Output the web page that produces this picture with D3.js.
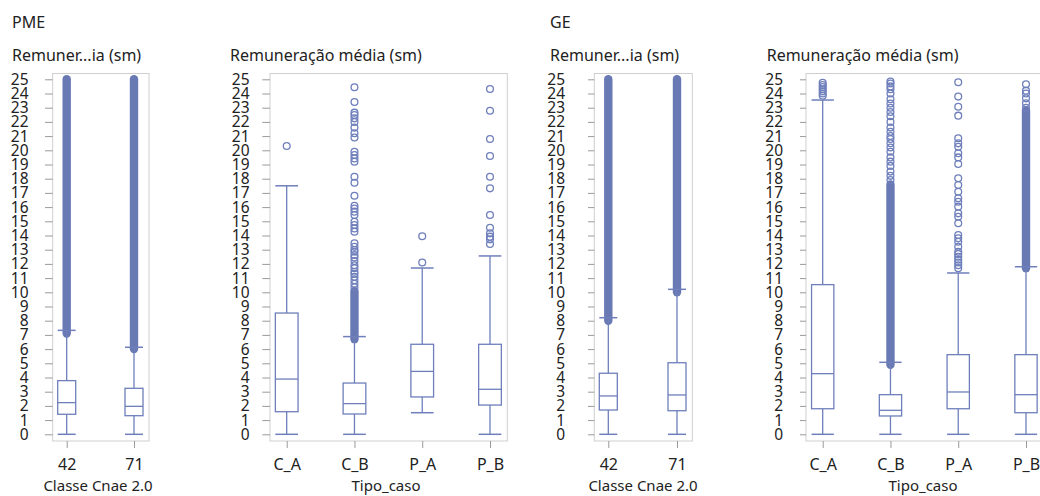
<!DOCTYPE html>
<html>
<head>
<meta charset="utf-8">
<script src="https://cdn.jsdelivr.net/npm/d3@7"></script>
<style>
  html, body { margin: 0; padding: 0; background: #fff; }
  svg { display: block; font-family: "Noto Sans", "Open Sans", sans-serif; }
</style>
</head>
<body>
<svg id="chart" width="1040" height="496"></svg>
<script>
// ---------------- DATA ----------------
const groupTitles = ["PME", "GE"];
const yTicks = d3.range(0, 26);

// stats: [lower whisker, Q1, median, Q3, upper whisker]
const pmeCnaeCats = ["42", "71"];
const pmeCnaeStats = [[0, 1.41, 2.23, 3.78, 7.32], [0, 1.31, 1.97, 3.24, 6.13]];
const pmeCnaeDense = [[7.1, 25], [6.0, 25]];
const pmeCnaeOutliers = [[], []];

const pmeTipoCats = ["C_A", "C_B", "P_A", "P_B"];
const pmeTipoStats = [
  [0, 1.59, 3.89, 8.54, 17.5],
  [0, 1.43, 2.16, 3.61, 6.88],
  [1.52, 2.63, 4.43, 6.34, 11.71],
  [0, 2.06, 3.17, 6.34, 12.56]
];
const pmeTipoDense = [null, [6.7, 10.1], null, null];
const pmeTipoOutliers = [
  [20.3],
  [10.35, 10.6, 10.85, 11.1, 11.3, 11.45, 11.7, 11.9, 12.2, 12.45, 12.63, 12.86, 12.98, 13.2, 13.45,
   14.27, 14.5, 14.74, 14.97, 15.44, 15.68, 15.9, 16.1, 16.8, 17.72, 18.14,
   19.2, 19.43, 19.67, 19.9, 20.9, 21.2, 21.6, 22.0, 22.25, 22.49, 22.65, 23.4, 24.44],
  [12.1, 13.95],
  [13.4, 13.73, 13.92, 14.15, 14.55, 15.44, 17.32, 18.14, 19.6, 20.8, 22.79, 24.32]
];

const geCnaeCats = ["42", "71"];
const geCnaeStats = [[0, 1.71, 2.70, 4.30, 8.21], [0, 1.66, 2.77, 5.04, 10.21]];
const geCnaeDense = [[8.0, 25], [10.0, 25]];
const geCnaeOutliers = [[], []];

const geTipoCats = ["C_A", "C_B", "P_A", "P_B"];
const geTipoStats = [
  [0, 1.80, 4.27, 10.54, 23.54],
  [0, 1.29, 1.69, 2.79, 5.07],
  [0, 1.80, 2.98, 5.61, 11.36],
  [0, 1.52, 2.79, 5.61, 11.80]
];
const geTipoDense = [null, [4.9, 17.6], null, [11.7, 22.8]];
const geTipoOutliers = [
  [23.85, 24.0, 24.15, 24.3, 24.45, 24.6, 24.75],
  [17.9, 18.2, 18.5, 18.9, 19.2, 19.5, 19.9, 20.2, 20.5, 20.8, 21.0, 21.3, 21.6, 22.0, 22.4,
   22.7, 23.0, 23.3, 23.6, 24.0, 24.3, 24.5, 24.7, 24.85],
  [11.7, 11.9, 12.1, 12.3, 12.5, 12.7, 12.86, 13.21, 13.56, 13.8, 14.04, 14.86, 15.32, 15.56, 16.03,
   16.38, 16.62, 17.08, 17.56, 18.03, 19.04, 19.5, 19.79, 20.25, 20.49, 20.85, 22.44, 23.07, 23.78, 24.79],
  [23.0, 23.31, 23.66, 24.0, 24.2, 24.65]
];

// ---------------- LAYOUT ----------------
const panels = [
  { group: groupTitles[0], title: "Remuner...ia (sm)", xTitle: "Classe Cnae 2.0",
    cats: pmeCnaeCats, stats: pmeCnaeStats, dense: pmeCnaeDense, outliers: pmeCnaeOutliers,
    frameL: 52.7, frameR: 149, labelRight: 28.5, tickX0: 45, titleX: 12,
    c0: 66.7, c1: 134, boxW: 18, xTitleX: 98 },
  { group: null, title: "Remuneração média (sm)", xTitle: "Tipo_caso",
    cats: pmeTipoCats, stats: pmeTipoStats, dense: pmeTipoDense, outliers: pmeTipoOutliers,
    frameL: 270, frameR: 507.3, labelRight: 249.5, tickX0: 262.3, titleX: 230,
    c0: 286.7, c1: 490, boxW: 22.7, xTitleX: 386 },
  { group: groupTitles[1], title: "Remuner...ia (sm)", xTitle: "Classe Cnae 2.0",
    cats: geCnaeCats, stats: geCnaeStats, dense: geCnaeDense, outliers: geCnaeOutliers,
    frameL: 594.3, frameR: 692.3, labelRight: 565, tickX0: 588, titleX: 550,
    c0: 608.3, c1: 677, boxW: 18, xTitleX: 643 },
  { group: null, title: "Remuneração média (sm)", xTitle: "Tipo_caso",
    cats: geTipoCats, stats: geTipoStats, dense: geTipoDense, outliers: geTipoOutliers,
    frameL: 806, frameR: 1043.5, labelRight: 783, tickX0: 800, titleX: 766.7,
    c0: 822.7, c1: 1026, boxW: 22.3, xTitleX: 923 }
];

const frameTop = 73.5, frameBottom = 441;
const y = d3.scaleLinear().domain([0, 25]).range([434.3, 79.3]);
const markColor = "#6e7fbb";
const denseColor = "#6979b4";
const textColor = "#222";

const svg = d3.select("#chart");

panels.forEach(p => {
  const g = svg.append("g");
  const x = d3.scalePoint().domain(p.cats).range([p.c0, p.c1]);

  if (p.group) {
    g.append("text").attr("x", p.titleX).attr("y", 27.5)
      .attr("font-size", 16).attr("fill", textColor).text(p.group);
  }
  g.append("text").attr("x", p.titleX).attr("y", 61)
    .attr("font-size", 16).attr("fill", textColor).text(p.title);

  // frame
  g.append("rect")
    .attr("x", p.frameL).attr("y", frameTop)
    .attr("width", p.frameR - p.frameL).attr("height", frameBottom - frameTop)
    .attr("fill", "none").attr("stroke", "#cfcfcf").attr("stroke-width", 1);

  // y axis
  const yAxis = d3.axisLeft(y).tickValues(yTicks)
    .tickSize(p.frameL - p.tickX0).tickPadding(p.tickX0 - p.labelRight).tickFormat(d3.format("d"));
  const ya = g.append("g").attr("transform", `translate(${p.frameL},0)`).call(yAxis);
  ya.select(".domain").remove();
  ya.selectAll(".tick line").attr("stroke", "#9a9a9a");
  ya.selectAll(".tick text").attr("font-size", 15.5).attr("fill", textColor)
    .attr("font-family", "Noto Sans");

  // x axis
  const xAxis = d3.axisBottom(x).tickSize(7).tickPadding(10.5);
  const xa = g.append("g").attr("transform", `translate(0,${frameBottom})`).call(xAxis);
  xa.select(".domain").remove();
  xa.selectAll(".tick line").attr("stroke", "#9a9a9a");
  xa.selectAll(".tick text").attr("font-size", 16).attr("fill", textColor)
    .attr("font-family", "Noto Sans");

  g.append("text").attr("x", p.xTitleX).attr("y", 491)
    .attr("text-anchor", "middle").attr("font-size", 15).attr("fill", textColor).text(p.xTitle);

  // boxes
  const data = p.cats.map((c, i) => ({ cat: c, s: p.stats[i], dense: p.dense[i], out: p.outliers[i] }));
  const hw = p.boxW / 2;
  const bx = g.selectAll(".bx").data(data).enter().append("g").attr("class", "bx");

  // dense outlier columns
  bx.filter(d => d.dense).append("line")
    .attr("x1", d => x(d.cat)).attr("x2", d => x(d.cat))
    .attr("y1", d => y(d.dense[0])).attr("y2", d => y(d.dense[1]))
    .attr("stroke", denseColor).attr("stroke-width", 8.4).attr("stroke-linecap", "round");

  // individual outliers
  bx.each(function(d) {
    d3.select(this).selectAll("circle").data(d.out).enter().append("circle")
      .attr("cx", x(d.cat)).attr("cy", v => y(v)).attr("r", 3.4)
      .attr("fill", "none").attr("stroke", markColor).attr("stroke-width", 1.3);
  });

  // whiskers
  bx.append("line").attr("x1", d => x(d.cat)).attr("x2", d => x(d.cat))
    .attr("y1", d => y(d.s[0])).attr("y2", d => y(d.s[1]))
    .attr("stroke", markColor).attr("stroke-width", 1.3);
  bx.append("line").attr("x1", d => x(d.cat)).attr("x2", d => x(d.cat))
    .attr("y1", d => y(d.s[3])).attr("y2", d => y(d.s[4]))
    .attr("stroke", markColor).attr("stroke-width", 1.3);
  // caps
  [0, 4].forEach(k => {
    bx.append("line").attr("x1", d => x(d.cat) - hw).attr("x2", d => x(d.cat) + hw)
      .attr("y1", d => y(d.s[k])).attr("y2", d => y(d.s[k]))
      .attr("stroke", markColor).attr("stroke-width", 1.5);
  });
  // box
  bx.append("rect").attr("x", d => x(d.cat) - hw).attr("width", p.boxW)
    .attr("y", d => y(d.s[3])).attr("height", d => y(d.s[1]) - y(d.s[3]))
    .attr("fill", "#fff").attr("stroke", markColor).attr("stroke-width", 1.3);
  // median
  bx.append("line").attr("x1", d => x(d.cat) - hw).attr("x2", d => x(d.cat) + hw)
    .attr("y1", d => y(d.s[2])).attr("y2", d => y(d.s[2]))
    .attr("stroke", markColor).attr("stroke-width", 1.3);
});
</script>
</body>
</html>
